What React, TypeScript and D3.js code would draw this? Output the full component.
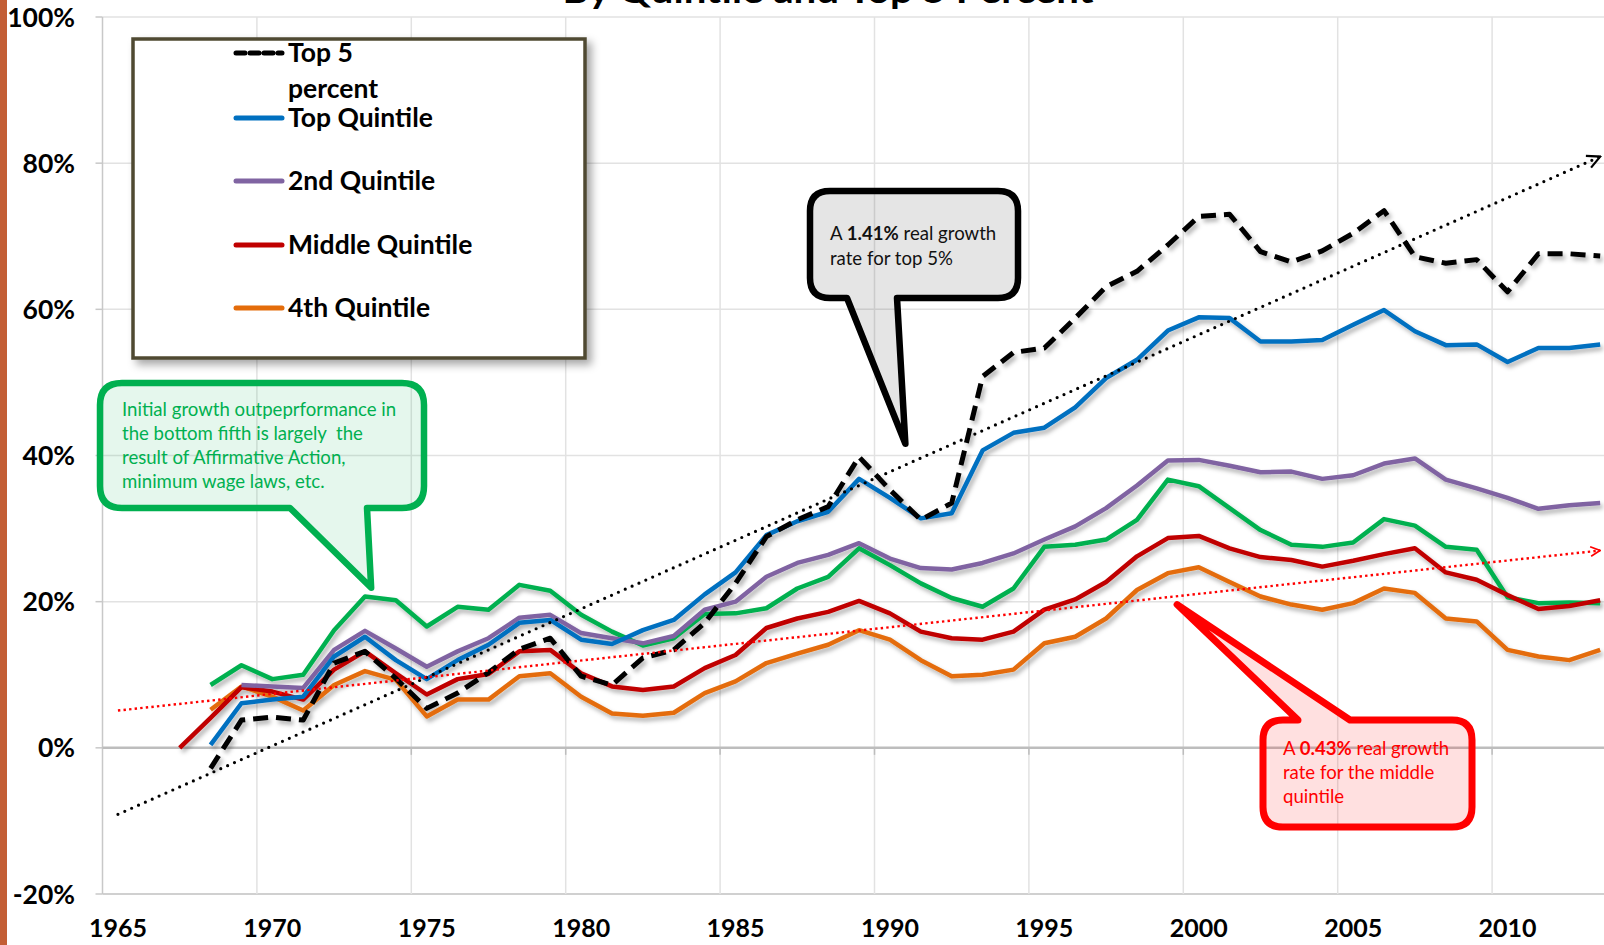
import React, { useEffect, useRef } from 'react';
import * as d3 from 'd3';

// years of the series (one value per year, null = no point)
const years = [
    1967, 1968, 1969, 1970, 1971, 1972, 1973, 1974, 1975, 1976, 1977, 1978, 1979, 1980, 1981, 1982,
    1983, 1984, 1985, 1986, 1987, 1988, 1989, 1990, 1991, 1992, 1993, 1994, 1995, 1996, 1997, 1998,
    1999, 2000, 2001, 2002, 2003, 2004, 2005, 2006, 2007, 2008, 2009, 2010, 2011, 2012, 2013
];

const top5Percent = [
    null, -2.8, 3.8, 4.2, 3.8, 11.6, 13.2, 9.5, 5.4, 7.5, 10.3, 13.5, 15.0, 9.8, 8.6, 12.3,
    13.4, 17.1, 22.5, 28.9, 31.2, 33.0, 39.8, 35.3, 31.2, 33.5, 50.8, 54.1, 54.7, 58.8, 63.1, 65.2,
    68.8, 72.7, 73.0, 67.9, 66.5, 68.0, 70.4, 73.5, 67.2, 66.3, 66.8, 62.4, 67.6, 67.6, 67.3
];
const topQuintile = [
    null, 0.4, 6.1, 6.6, 7.0, 12.5, 15.2, 12.0, 9.4, 12.0, 14.1, 17.1, 17.5, 14.8, 14.2, 16.1,
    17.5, 21.0, 24.0, 29.1, 31.0, 32.3, 36.8, 34.2, 31.4, 32.1, 40.7, 43.1, 43.8, 46.6, 50.6, 53.1,
    57.1, 58.9, 58.8, 55.6, 55.6, 55.8, 57.9, 59.9, 57.0, 55.1, 55.2, 52.8, 54.7, 54.7, 55.2
];
const secondQuintile = [
    null, null, 8.6, 8.4, 8.2, 13.4, 16.0, 13.6, 11.1, 13.2, 15.0, 17.8, 18.2, 15.7, 15.0, 14.3,
    15.3, 18.9, 20.0, 23.4, 25.3, 26.4, 28.0, 25.9, 24.6, 24.4, 25.3, 26.6, 28.5, 30.3, 32.8, 35.9,
    39.3, 39.4, 38.6, 37.7, 37.8, 36.8, 37.3, 38.9, 39.6, 36.7, 35.5, 34.2, 32.7, 33.2, 33.5
];
const middleQuintile = [
    0, 4.1, 8.3, 7.7, 6.6, 10.7, 13.2, 10.2, 7.3, 9.4, 10.1, 13.2, 13.4, 10.2, 8.4, 7.9,
    8.4, 10.9, 12.7, 16.4, 17.7, 18.6, 20.1, 18.4, 15.9, 15.0, 14.8, 15.9, 18.9, 20.3, 22.7, 26.2,
    28.7, 29.0, 27.3, 26.1, 25.7, 24.8, 25.6, 26.5, 27.3, 24.0, 23.0, 20.9, 19.0, 19.4, 20.2
];
const fourthQuintile = [
    null, 5.2, 8.4, 7.0, 5.1, 8.6, 10.5, 9.3, 4.3, 6.6, 6.6, 9.8, 10.2, 7.0, 4.7, 4.4,
    4.8, 7.5, 9.1, 11.6, 12.9, 14.1, 16.1, 14.8, 12.0, 9.8, 10.0, 10.7, 14.3, 15.2, 17.7, 21.6,
    23.9, 24.7, 22.7, 20.7, 19.6, 18.9, 19.8, 21.8, 21.2, 17.7, 17.3, 13.4, 12.5, 12.0, 13.4
];
const bottomQuintile = [
    null, 8.6, 11.3, 9.4, 10.0, 16.1, 20.7, 20.2, 16.6, 19.3, 18.9, 22.3, 21.5, 18.2, 15.9, 14.0,
    15.0, 18.3, 18.4, 19.1, 21.8, 23.4, 27.3, 25.0, 22.5, 20.5, 19.3, 21.8, 27.5, 27.8, 28.5, 31.2,
    36.7, 35.8, 32.8, 29.8, 27.8, 27.5, 28.1, 31.3, 30.4, 27.5, 27.1, 20.6, 19.8, 19.9, 19.8
];

// linear trend lines (start / end)
const trendYears = [1965, 2013];
const top5Trend = [-9.1, 80.9];
const middleTrend = [5.1, 27.0];

const xTickYears = [1965, 1970, 1975, 1980, 1985, 1990, 1995, 2000, 2005, 2010];
const yTicks = [-20, 0, 20, 40, 60, 80, 100];

const FONT = 'Lato, "Open Sans", "DejaVu Sans", sans-serif';

const App = () => {
    const svgRef = useRef(null);

    useEffect(() => {
        document.body.style.margin = '0';
        document.body.style.overflow = 'hidden';

        const svg = d3.select(svgRef.current);
        svg.selectAll('*').remove();

        const width = 1604, height = 945;

        const x = d3.scaleLinear().domain([1964.5, 2014.5]).range([102.5, 1646.5]);
        const y = d3.scaleLinear().domain([-20, 100]).range([894, 17]);

        const defs = svg.append('defs');
        const shadow = defs.append('filter').attr('id', 'shadow')
            .attr('x', '-10%').attr('y', '-10%').attr('width', '130%').attr('height', '140%');
        shadow.append('feDropShadow')
            .attr('dx', 2.5).attr('dy', 3.5).attr('stdDeviation', 2)
            .attr('flood-color', '#000').attr('flood-opacity', 0.3);

        const boxShadow = defs.append('filter').attr('id', 'boxShadow')
            .attr('x', '-10%').attr('y', '-10%').attr('width', '130%').attr('height', '130%');
        boxShadow.append('feDropShadow')
            .attr('dx', 5).attr('dy', 5).attr('stdDeviation', 4)
            .attr('flood-color', '#000').attr('flood-opacity', 0.35);

        const arrowDefs = [
            {id: 'arrowBlack', color: '#000'},
            {id: 'arrowRed', color: '#FF0000'}
        ];
        arrowDefs.forEach((a) => {
            defs.append('marker')
                .attr('id', a.id)
                .attr('viewBox', '0 0 10 10')
                .attr('refX', 9).attr('refY', 5)
                .attr('markerWidth', 5).attr('markerHeight', 5)
                .attr('markerUnits', 'strokeWidth')
                .attr('orient', 'auto')
                .append('path')
                .attr('d', 'M1,1 L9,5 L1,9')
                .attr('fill', 'none')
                .attr('stroke', a.color)
                .attr('stroke-width', 1.4);
        });

        svg.append('rect').attr('width', width).attr('height', height).attr('fill', '#fff');

        // gridlines
        const grid = svg.append('g');
        yTicks.filter((t) => t !== 0).forEach((t) => {
            grid.append('line')
                .attr('x1', x(1964.5)).attr('x2', width)
                .attr('y1', y(t)).attr('y2', y(t))
                .attr('stroke', t === -20 ? '#D0D0D0' : '#E2E2E2')
                .attr('stroke-width', t === -20 ? 2 : 1.5);
        });
        xTickYears.slice(1).forEach((yr) => {
            grid.append('line')
                .attr('x1', x(yr - 0.5)).attr('x2', x(yr - 0.5))
                .attr('y1', y(100)).attr('y2', y(-20))
                .attr('stroke', '#E2E2E2')
                .attr('stroke-width', 1.5);
        });

        // y axis
        const yAxis = svg.append('g');
        yAxis.append('line')
            .attr('x1', x(1964.5)).attr('x2', x(1964.5))
            .attr('y1', y(100)).attr('y2', y(-20))
            .attr('stroke', '#C8C8C8').attr('stroke-width', 1.5);
        yTicks.forEach((t) => {
            yAxis.append('line')
                .attr('x1', x(1964.5) - 7).attr('x2', x(1964.5))
                .attr('y1', y(t)).attr('y2', y(t))
                .attr('stroke', '#C8C8C8').attr('stroke-width', 1.5);
            yAxis.append('text')
                .attr('x', 75).attr('y', y(t)).attr('dy', '0.36em')
                .attr('text-anchor', 'end')
                .attr('font-family', FONT).attr('font-weight', 700).attr('font-size', 26.5)
                .attr('fill', '#000')
                .text(`${t}%`);
        });

        // zero line + category ticks
        svg.append('line')
            .attr('x1', x(1964.5)).attr('x2', width)
            .attr('y1', y(0)).attr('y2', y(0))
            .attr('stroke', '#BDBDBD').attr('stroke-width', 2.5);
        xTickYears.slice(1).forEach((yr) => {
            svg.append('line')
                .attr('x1', x(yr - 0.5)).attr('x2', x(yr - 0.5))
                .attr('y1', y(0)).attr('y2', y(0) + 7)
                .attr('stroke', '#BDBDBD').attr('stroke-width', 1.5);
        });
        xTickYears.forEach((yr) => {
            svg.append('text')
                .attr('x', x(yr)).attr('y', 937)
                .attr('text-anchor', 'middle')
                .attr('font-family', FONT).attr('font-weight', 700).attr('font-size', 25)
                .attr('fill', '#000')
                .text(yr);
        });

        // title (cut off at the top edge, as in the original slide)
        svg.append('text')
            .attr('x', 828).attr('y', 3)
            .attr('text-anchor', 'middle')
            .attr('font-family', FONT).attr('font-weight', 700).attr('font-size', 34)
            .attr('textLength', 531).attr('lengthAdjust', 'spacingAndGlyphs')
            .attr('fill', '#000')
            .text('By Quintile and Top 5 Percent');

        // series
        const series = [
            {name: 'Bottom Quintile', values: bottomQuintile, color: '#00B050', dash: null},
            {name: '4th Quintile', values: fourthQuintile, color: '#E46C0A', dash: null},
            {name: 'Middle Quintile', values: middleQuintile, color: '#C00000', dash: null},
            {name: '2nd Quintile', values: secondQuintile, color: '#8064A2', dash: null},
            {name: 'Top Quintile', values: topQuintile, color: '#0070C0', dash: null},
            {name: 'Top 5 percent', values: top5Percent, color: '#000000', dash: '15 8'}
        ];

        const lineGenerator = d3.line()
            .defined((d) => d.value !== null)
            .x((d) => x(d.year))
            .y((d) => y(d.value));

        const lines = svg.append('g').attr('filter', 'url(#shadow)');
        series.forEach((s) => {
            const pts = years.map((yr, i) => ({year: yr, value: s.values[i]}));
            lines.append('path')
                .attr('d', lineGenerator(pts))
                .attr('fill', 'none')
                .attr('stroke', s.color)
                .attr('stroke-width', s.dash ? 5 : 4.5)
                .attr('stroke-dasharray', s.dash)
                .attr('stroke-linejoin', 'round');
        });

        // trend lines
        const trendLine = d3.line().x((d) => x(d.year)).y((d) => y(d.value));
        const trends = [
            {values: top5Trend, color: '#000', width: 3.2, dash: '0 7.5', cap: 'round', marker: 'arrowBlack'},
            {values: middleTrend, color: '#FF0000', width: 2.4, dash: '2.4 3.2', cap: 'butt', marker: 'arrowRed'}
        ];
        trends.forEach((t) => {
            svg.append('path')
                .attr('d', trendLine(trendYears.map((yr, i) => ({year: yr, value: t.values[i]}))))
                .attr('fill', 'none')
                .attr('stroke', t.color)
                .attr('stroke-width', t.width)
                .attr('stroke-dasharray', t.dash)
                .attr('stroke-linecap', t.cap)
                .attr('marker-end', `url(#${t.marker})`);
        });

        // callouts
        const bottomCallout = (x0, y0, x1, y1, r, a, b, tx, ty) =>
            `M${x0 + r},${y0} H${x1 - r} Q${x1},${y0} ${x1},${y0 + r} V${y1 - r} Q${x1},${y1} ${x1 - r},${y1} ` +
            `H${b} L${tx},${ty} L${a},${y1} H${x0 + r} Q${x0},${y1} ${x0},${y1 - r} V${y0 + r} Q${x0},${y0} ${x0 + r},${y0} Z`;
        const topCallout = (x0, y0, x1, y1, r, a, b, tx, ty) =>
            `M${x0 + r},${y0} H${a} L${tx},${ty} L${b},${y0} H${x1 - r} Q${x1},${y0} ${x1},${y0 + r} V${y1 - r} ` +
            `Q${x1},${y1} ${x1 - r},${y1} H${x0 + r} Q${x0},${y1} ${x0},${y1 - r} V${y0 + r} Q${x0},${y0} ${x0 + r},${y0} Z`;

        const CALLOUT_SIZE = 18.6;

        svg.append('path')
            .attr('d', bottomCallout(810, 191, 1018, 298, 20, 847, 897, x(1990.5), y(41.6)))
            .attr('fill', 'rgba(0,0,0,0.1)')
            .attr('stroke', '#000').attr('stroke-width', 6.5).attr('stroke-linejoin', 'round');
        const blackText = svg.append('text')
            .attr('font-family', FONT).attr('font-size', CALLOUT_SIZE).attr('fill', '#111');
        const bl1 = blackText.append('tspan').attr('x', 830).attr('y', 240);
        bl1.append('tspan').text('A ');
        bl1.append('tspan').attr('font-weight', 700).text('1.41%');
        bl1.append('tspan').text(' real growth');
        blackText.append('tspan').attr('x', 830).attr('y', 265).text('rate for top 5%');

        svg.append('path')
            .attr('d', bottomCallout(100, 383, 424, 508, 22, 290, 367, x(1973.2), y(21.9)))
            .attr('fill', 'rgba(0,176,80,0.1)')
            .attr('stroke', '#00B050').attr('stroke-width', 6.5).attr('stroke-linejoin', 'round');
        const greenLines = [
            'Initial growth outpeprformance in',
            'the bottom fifth is largely  the',
            'result of Affirmative Action,',
            'minimum wage laws, etc.'
        ];
        const greenText = svg.append('text')
            .attr('font-family', FONT).attr('font-size', CALLOUT_SIZE).attr('fill', '#00B050')
            .style('white-space', 'pre');
        greenLines.forEach((l, i) => {
            greenText.append('tspan').attr('x', 122).attr('y', 416 + i * 24).text(l);
        });

        svg.append('path')
            .attr('d', topCallout(1263, 720, 1472, 827, 20, 1298, 1350, x(1999.3), y(19.6)))
            .attr('fill', 'rgba(255,0,0,0.12)')
            .attr('stroke', '#FF0000').attr('stroke-width', 7).attr('stroke-linejoin', 'round');
        const redText = svg.append('text')
            .attr('font-family', FONT).attr('font-size', CALLOUT_SIZE).attr('fill', '#FF0000');
        const rl1 = redText.append('tspan').attr('x', 1283).attr('y', 755);
        rl1.append('tspan').text('A ');
        rl1.append('tspan').attr('font-weight', 700).text('0.43%');
        rl1.append('tspan').text(' real growth');
        redText.append('tspan').attr('x', 1283).attr('y', 779).text('rate for the middle');
        redText.append('tspan').attr('x', 1283).attr('y', 803).text('quintile');

        // legend
        const legend = svg.append('g');
        legend.append('rect')
            .attr('x', 133).attr('y', 39).attr('width', 452).attr('height', 319)
            .attr('fill', '#fff')
            .attr('stroke', '#4F4A30').attr('stroke-width', 3.5)
            .attr('filter', 'url(#boxShadow)');
        const legendItems = [
            {label: ['Top 5', 'percent'], color: '#000000', dash: '9 5', y: 53},
            {label: ['Top Quintile'], color: '#0070C0', dash: null, y: 118},
            {label: ['2nd Quintile'], color: '#8064A2', dash: null, y: 181},
            {label: ['Middle Quintile'], color: '#C00000', dash: null, y: 245},
            {label: ['4th Quintile'], color: '#E46C0A', dash: null, y: 308}
        ];
        legendItems.forEach((item) => {
            legend.append('line')
                .attr('x1', 236).attr('x2', 282)
                .attr('y1', item.y).attr('y2', item.y)
                .attr('stroke', item.color)
                .attr('stroke-width', 5)
                .attr('stroke-dasharray', item.dash)
                .attr('stroke-linecap', 'round');
            item.label.forEach((l, i) => {
                legend.append('text')
                    .attr('x', 288).attr('y', item.y + 9 + i * 36)
                    .attr('font-family', FONT).attr('font-weight', 700).attr('font-size', 26.5)
                    .attr('fill', '#000')
                    .text(l);
            });
        });

        // slide edge on the left
        svg.append('rect').attr('x', 0).attr('y', 0).attr('width', 7).attr('height', height).attr('fill', '#C35E35');
    }, []);

    return (
        <svg ref={svgRef} width={1604} height={945} style={{display: 'block'}}></svg>
    );
};

export default App;
